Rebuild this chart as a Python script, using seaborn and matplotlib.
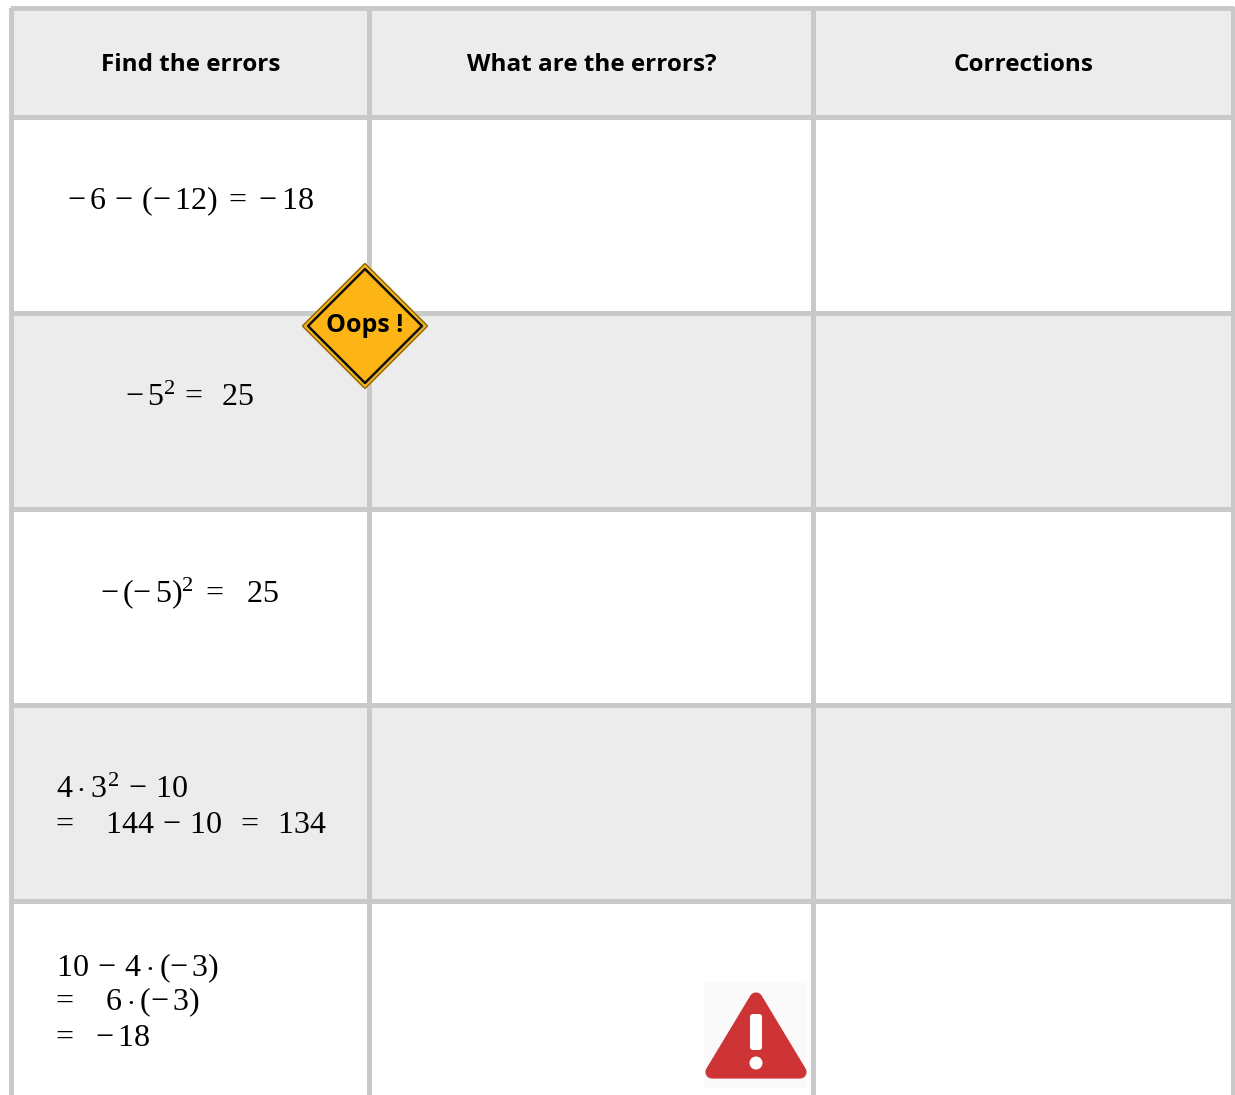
import numpy as np
import matplotlib
matplotlib.use('Agg')
import matplotlib.pyplot as plt
from matplotlib.colors import ListedColormap
from matplotlib.patches import Polygon, Circle, FancyBboxPatch, Rectangle
import seaborn as sns

headers = ['Find the errors', 'What are the errors?', 'Corrections']
# first column contents, one list of lines per row
row_lines = [
    [r'$-\,6\,-\,(-\,12)\;=\;{-}\,18$'],
    [r'$-\,5^2\,=\;\;25$'],
    [r'$-\,(-\,5)^2\;=\;\;\,25$'],
    [r'$4\cdot 3^2\,-\,10$', r'$\!\!=\;\;\;\;144\,-\,10\;\;=\;\;134$'],
    [r'$10\,-\,4\cdot(-\,3)$', r'$\!\!=\;\;\;\;6\cdot(-\,3)$', r'$\!\!=\;\;\,{-}\,18$'],
]
# the last row runs on past the bottom of the page
row_shade = [0, 1, 0, 1, 0, 1]
header_shade = [1]
sign_text = 'Oops !'

W, H = 1235, 1095
col_edges = [10.5, 369, 813, 1232.5]
header_edges = [7.5, 117]
body_top, row_h = 117, 196
GREY = '#c9c9c9'
cmap = ListedColormap(['#ffffff', '#ececec'])

sns.set_theme(style='white')
plt.rcParams['mathtext.fontset'] = 'custom'
plt.rcParams['mathtext.rm'] = 'Liberation Serif'
plt.rcParams['mathtext.it'] = 'Liberation Serif'
plt.rcParams['mathtext.bf'] = 'Liberation Serif:bold'

fig = plt.figure(figsize=(W / 100, H / 100), dpi=100, facecolor='white')


def block(x0, x1, y0, y1, values):
    ax = fig.add_axes([x0 / W, 1 - y1 / H, (x1 - x0) / W, (y1 - y0) / H])
    sns.heatmap(np.array(values).reshape(-1, 1), ax=ax, cmap=cmap, vmin=0, vmax=1, cbar=False,
                linewidths=2.3, linecolor=GREY, xticklabels=False, yticklabels=False)
    ax.collections[0].set_clip_on(False)
    return ax


for i in range(3):
    block(col_edges[i], col_edges[i + 1], header_edges[0], header_edges[1], header_shade)
    block(col_edges[i], col_edges[i + 1], body_top, body_top + row_h * len(row_shade), row_shade)

# overlay in pixel coordinates for text and the two signs
top = fig.add_axes([0, 0, 1, 1], facecolor='none')
top.set_xlim(0, W)
top.set_ylim(H, 0)
top.axis('off')

for i, name in enumerate(headers):
    top.text((col_edges[i] + col_edges[i + 1]) / 2 + 0.5, 65, name, ha='center', va='center',
             family='Open Sans', weight='bold', fontsize=17.5, color='black')

left_x = 56
single_x = 190
for i, lines in enumerate(row_lines):
    if len(lines) == 1:
        top.text(single_x, 201 + 196 * i, lines[0], ha='center', va='center', fontsize=23, color='black')
    else:
        y0 = 790 if len(lines) == 2 else 968
        for j, s in enumerate(lines):
            top.text(left_x, y0 + 34.5 * j, s, ha='left', va='center', fontsize=23, color='black')


def diamond(cx, cy, r):
    return [(cx, cy - r), (cx + r, cy), (cx, cy + r), (cx - r, cy)]


# Oops sign
cx, cy = 365, 326
top.add_patch(Polygon(diamond(cx, cy, 60), closed=True, fc='#fdb515', ec='#fdb515', lw=4, joinstyle='round', zorder=5))
top.add_patch(Polygon(diamond(cx, cy, 62.5), closed=True, fc='none', ec='#6b5a2a', lw=0.8, joinstyle='round', zorder=6))
top.add_patch(Polygon(diamond(cx, cy, 57), closed=True, fc='none', ec='#111111', lw=1.8, joinstyle='round', zorder=6))
top.text(cx, cy, sign_text, ha='center', va='center', family='Open Sans', weight='bold',
         fontsize=18, color='black', zorder=7)

# warning triangle
top.add_patch(Rectangle((704, 983), 103, 105, fc='#fafafa', ec='none', zorder=3))
top.add_patch(Polygon([(756, 999), (800, 1072), (712, 1072)], closed=True, fc='#ce3436', ec='#ce3436',
                      lw=9.5, joinstyle='round', zorder=4))
top.add_patch(FancyBboxPatch((753, 1017), 6, 30, boxstyle='round,pad=3,rounding_size=3', fc='white', ec='none', zorder=5))
top.add_patch(Circle((756, 1063), 6.5, fc='white', ec='none', zorder=5))

fig.savefig('out.png', dpi=100, facecolor='white')
